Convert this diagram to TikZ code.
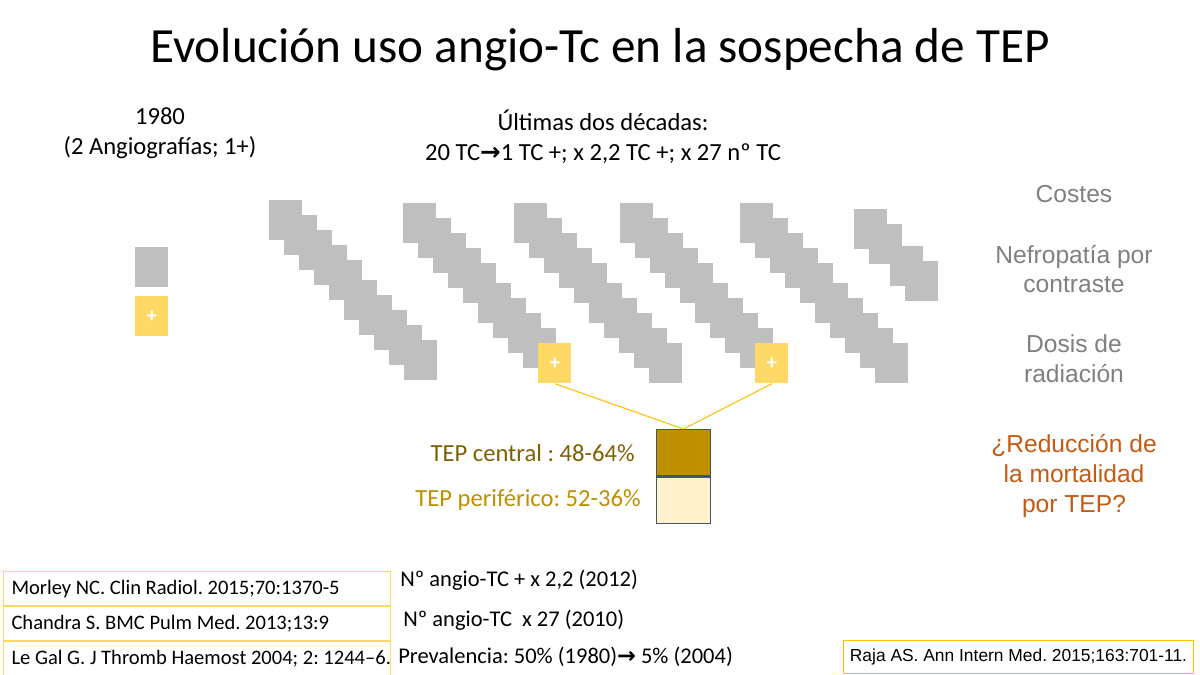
\documentclass[tikz,border=0pt]{standalone}
\usepackage{fontspec}
\setmainfont{Carlito}
\newfontfamily\arialfont{Liberation Sans}
\newfontfamily\arrowfont{DejaVu Sans}
\usetikzlibrary{positioning}
\frenchspacing

\definecolor{ctgray}{HTML}{BFBFBF}
\definecolor{posyellow}{HTML}{FFD966}
\definecolor{linkgold}{HTML}{FFC000}
\definecolor{centraldark}{HTML}{BF9000}
\definecolor{perilight}{HTML}{FFF2CC}
\definecolor{boxslate}{HTML}{44546A}
\definecolor{centraltext}{HTML}{7F6000}
\definecolor{notegray}{HTML}{808080}
\definecolor{askorange}{HTML}{C55A11}
\definecolor{refline}{HTML}{FFD966}

\newcommand{\fatarrow}{{\arrowfont\bfseries →}}
\newcommand{\refentry}[1]{\makebox[7.42cm][l]{#1}}

\begin{document}
\begin{tikzpicture}[x=0.02cm,y=-0.02cm,
    ct/.style={rectangle,fill=ctgray,minimum width=0.66cm,minimum height=0.8cm,
               inner sep=0pt,anchor=north west},
    pos ct/.style={ct,fill=posyellow,text=white,font=\bfseries\large},
    tepbox/.style={rectangle,draw=boxslate,line width=0.6pt,minimum width=1.08cm,
                   minimum height=0.93cm,inner sep=0pt},
    link/.style={draw=linkgold,line width=0.6pt},
    head/.style={align=center,font=\fontsize{14}{17}\selectfont,inner sep=0pt},
    note/.style={align=center,text=notegray,inner sep=0pt,
                 font=\arialfont\fontsize{14}{17}\selectfont},
    tep label/.style={inner sep=0pt,font=\fontsize{14}{17}\selectfont},
    refrow/.style={draw=refline,line width=0.6pt,minimum width=7.74cm,
                   minimum height=0.68cm,inner sep=0pt,
                   font=\fontsize{11.7}{13}\selectfont},
    finding/.style={inner sep=0pt,anchor=west,font=\fontsize{12.8}{15}\selectfont}]

  \useasboundingbox[fill=white] (0,0) rectangle (1200,675);

  \node[font=\fontsize{28}{34}\selectfont] (title) at (600,50)
    {Evolución uso angio-Tc en la sospecha de TEP};

  % 1980
  \node[head] (era80) at (160,133) {1980\\(2 Angiografías; 1+)};
  \node[ct] (single) at (135,247) {};
  \node[pos ct] (singleplus) at (135,296) {+};

  % ultimas dos decadas
  \node[head] (lastdec) at (603,137)
    {Últimas dos décadas:\\20 TC\fatarrow1 TC +; x 2,2 TC +; x 27 nº TC};
  \foreach \sx/\sy/\sname in {269/200/a,403/203/b,514/203/c,620/203/d,740/203/e}
    \foreach \i in {0,...,9}{
      \pgfmathsetmacro\dy{\i>4 ? 5 : 0}
      \node[ct] (\sname\i) at (\sx+15*\i,\sy+15*\i+\dy) {};
    }
  \foreach \sx/\sy [count=\k] in {854/209,869/224,890/246,905/261}
    \node[ct] (f\k) at (\sx,\sy) {};
  \node[pos ct] (plusb) at (b9.north west) {+};
  \node[pos ct] (plusd) at (d9.north west) {+};

  % TEP central / periferico
  \node[tepbox,fill=centraldark,anchor=north west] (central) at (656,429) {};
  \node[tepbox,fill=perilight,below=0pt of central] (peri) {};
  \draw[link] (plusb.south) -- (central.north);
  \draw[link] (plusd.south) -- (central.north);
  \node[tep label,text=centraltext,left=0.42cm of central] (centraltxt)
    {TEP central : 48-64\%};
  \node[tep label,text=centraldark,left=0.3cm of peri] (peritxt)
    {TEP periférico: 52-36\%};

  % notas
  \node[note] (costes) at (1074,194) {Costes};
  \node[note] (nefro) at (1074,269) {Nefropatía por\\contraste};
  \node[note] (dosis) at (1074,359) {Dosis de\\radiación};
  \node[note,text=askorange] (mort) at (1074,476) {¿Reducción de\\la mortalidad\\por TEP?};

  % referencias
  \node[refrow,anchor=north west] (morley) at (3,571)
    {\refentry{Morley NC. Clin Radiol. 2015;70:1370-5}};
  \node[refrow,below=0pt of morley] (chandra)
    {\refentry{Chandra S. BMC Pulm Med. 2013;13:9}};
  \node[refrow,below=0pt of chandra] (legal)
    {\refentry{Le Gal G. J Thromb Haemost 2004; 2: 1244--6.}};
  \node[finding] (fposit) at (400,580) {Nº angio-TC + x 2,2 (2012)};
  \node[finding] (fnum) at (403,620) {Nº angio-TC\ \ x 27 (2010)};
  \node[finding] (fprev) at (398,657) {Prevalencia: 50\% (1980)\fatarrow\ 5\% (2004)};
  \node[draw=linkgold,line width=0.6pt,anchor=north west,minimum width=7cm,
        minimum height=0.66cm,inner sep=0pt,font=\arialfont\fontsize{9.9}{12}\selectfont]
    (raja) at (843,640) {Raja AS. Ann Intern Med. 2015;163:701-11.};
\end{tikzpicture}
\end{document}
